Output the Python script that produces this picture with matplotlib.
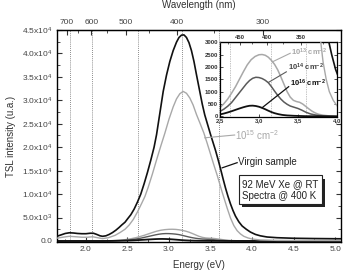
import numpy as np
import matplotlib
matplotlib.use("Agg")
import matplotlib.pyplot as plt
from matplotlib.ticker import MultipleLocator, FixedLocator
import matplotlib.patheffects as pe

plt.rcParams['font.family'] = ['Liberation Sans', 'DejaVu Sans']
plt.rcParams['mathtext.fontset'] = 'custom'
plt.rcParams['mathtext.rm'] = 'Liberation Sans'
plt.rcParams['mathtext.bf'] = 'Liberation Sans:bold'
plt.rcParams['mathtext.default'] = 'regular'

# ---- data (energy in eV, TSL intensity in u.a.) ----
virgin_E = [1.65, 1.70, 1.75, 1.80, 1.85, 1.90, 1.95, 2.00, 2.05, 2.09, 2.13, 2.17, 2.20,
            2.24, 2.28, 2.32, 2.36, 2.40, 2.43, 2.47, 2.50, 2.54, 2.58, 2.62, 2.66, 2.70,
            2.74, 2.78, 2.82, 2.85, 2.89, 2.93, 2.97, 3.01, 3.05, 3.09, 3.12, 3.15, 3.18,
            3.21, 3.24, 3.27, 3.30, 3.33, 3.37, 3.40, 3.43, 3.47, 3.50, 3.53, 3.56, 3.59,
            3.62, 3.65, 3.68, 3.71, 3.74, 3.77, 3.80, 3.84, 3.88, 3.93, 3.98, 4.04, 4.10,
            4.18, 4.30, 4.50, 4.75, 5.00, 5.08]
virgin_I = [1000, 1300, 1600, 1750, 1700, 1600, 1550, 1550, 1650, 1650, 1400, 1100, 1000,
            1100, 1400, 1800, 2300, 2900, 3400, 4000, 4700, 5600, 6800, 8300, 10000, 12200,
            14600, 17200, 20000, 22700, 27300, 31900, 35400, 38300, 40600, 42400, 43400, 43900, 43950,
            43400, 42300, 40600, 38300, 35500, 31900, 29200, 26900, 24500, 22700, 21000, 19300, 17400,
            15400, 13300, 11300, 9500, 7900, 6500, 5300, 4100, 3200, 2500, 1900, 1400, 1100,
            850, 700, 580, 520, 480, 470]

f15_E = [1.65, 1.72, 1.80, 1.88, 1.95, 2.02, 2.08, 2.14, 2.20, 2.27, 2.35, 2.41, 2.47, 2.52,
         2.57, 2.62, 2.67, 2.71, 2.75, 2.80, 2.85, 2.90, 2.95, 3.00, 3.05, 3.09, 3.13, 3.17,
         3.21, 3.25, 3.29, 3.33, 3.38, 3.42, 3.46, 3.50, 3.54, 3.58, 3.61, 3.64, 3.67, 3.70,
         3.74, 3.78, 3.82, 3.86, 3.90, 3.95, 4.00, 4.10, 4.30, 5.08]
f15_I = [600, 800, 1000, 900, 800, 800, 900, 700, 500, 700, 1200, 1800, 2500, 3400,
         4600, 6200, 8000, 9500, 11500, 14300, 17300, 20200, 23000, 26000, 28600, 30300, 31400, 31900,
         31500, 30500, 29000, 27000, 24800, 23000, 20800, 18500, 16200, 14000, 12200, 10400, 8700, 7000,
         4900, 3300, 2200, 1500, 1000, 650, 420, 220, 130, 100]

f13_E = [1.65, 2.20, 2.30, 2.40, 2.45, 2.50, 2.55, 2.60, 2.65, 2.70, 2.75, 2.80, 2.85, 2.90,
         2.95, 3.00, 3.04, 3.08, 3.12, 3.16, 3.20, 3.24, 3.28, 3.32, 3.36, 3.40, 3.44, 3.48,
         3.52, 3.56, 3.60, 3.64, 3.68, 3.72, 3.76, 3.82, 3.90, 4.00, 5.08]
f13_I = [0, 20, 60, 150, 240, 350, 510, 700, 940, 1200, 1500, 1800, 2080, 2290,
         2420, 2490, 2500, 2470, 2390, 2260, 2100, 1880, 1600, 1300, 1000, 780, 650, 600,
         570, 500, 400, 300, 210, 140, 90, 50, 20, 0, 0]

f14_E = [1.65, 2.20, 2.30, 2.40, 2.45, 2.50, 2.55, 2.60, 2.65, 2.70, 2.75, 2.80, 2.84, 2.88,
         2.92, 2.96, 3.00, 3.04, 3.08, 3.12, 3.16, 3.20, 3.24, 3.28, 3.32, 3.36, 3.40, 3.45,
         3.50, 3.55, 3.60, 3.66, 3.72, 3.80, 3.90, 4.00, 5.08]
f14_I = [0, 10, 40, 100, 140, 200, 290, 410, 560, 760, 960, 1160, 1320, 1450,
         1540, 1580, 1570, 1530, 1460, 1360, 1200, 1020, 850, 700, 580, 490, 420, 370,
         320, 250, 170, 100, 60, 25, 10, 0, 0]

f16_E = [1.65, 2.20, 2.30, 2.40, 2.50, 2.55, 2.60, 2.65, 2.70, 2.75, 2.80, 2.84, 2.88, 2.92,
         2.96, 3.00, 3.04, 3.08, 3.12, 3.16, 3.20, 3.25, 3.30, 3.36, 3.45, 3.60, 4.00, 5.08]
f16_I = [0, 0, 15, 40, 80, 115, 160, 210, 265, 320, 370, 405, 430, 435,
         420, 390, 345, 290, 230, 175, 130, 90, 60, 40, 25, 10, 0, 0]

peak_lines_E = [1.81, 2.07, 2.63, 3.16, 3.60]

main_xticks = [2.0, 2.5, 3.0, 3.5, 4.0, 4.5, 5.0]
main_yticks = [0, 5000, 10000, 15000, 20000, 25000, 30000, 35000, 40000, 45000]
main_ylabels = ['0.0', '5.0x10$^3$', '1.0x10$^4$', '1.5x10$^4$', '2.0x10$^4$', '2.5x10$^4$',
                '3.0x10$^4$', '3.5x10$^4$', '4.0x10$^4$', '4.5x10$^4$']
wl_ticks = [700, 600, 500, 400, 300]
wl_minor = [650, 550, 450, 350]
inset_xticks = [2.5, 3.0, 3.5, 4.0]
inset_xlabels = ['2,5', '3,0', '3,5', '4,0']
inset_yticks = [0, 500, 1000, 1500, 2000, 2500, 3000]
inset_wl_ticks = [450, 400, 350]
inset_wl_minor = [475, 425, 375, 325]

HC = 1239.84


def e2w(x):
    x = np.asarray(x, dtype=float)
    with np.errstate(divide='ignore', invalid='ignore'):
        return np.where(x != 0, HC / np.where(x != 0, x, 1), np.inf)


w2e = e2w

C_LIGHT = '#a8a8a8'
C_MID = '#5a5a5a'
C_DARK = '#111111'

fig = plt.figure(figsize=(3.49, 2.70), dpi=100)
ax = fig.add_axes([0.163, 0.104, 0.814, 0.785])

for e in peak_lines_E:
    ax.axvline(e, color='#666666', ls=(0, (1, 1.5)), lw=0.6, zorder=1)

ax.plot(f13_E, f13_I, color=C_LIGHT, lw=1.0, zorder=2)
ax.plot(f14_E, f14_I, color=C_MID, lw=1.0, zorder=2)
ax.plot(f16_E, f16_I, color=C_DARK, lw=1.3, zorder=2)
ax.plot(f15_E, f15_I, color=C_LIGHT, lw=1.0, zorder=3)
ax.plot(virgin_E, virgin_I, color=C_DARK, lw=1.2, zorder=4)

ax.set_xlim(1.65, 5.07)
ax.set_ylim(-200, 45000)
ax.xaxis.set_major_locator(FixedLocator(main_xticks))
ax.xaxis.set_minor_locator(MultipleLocator(0.25))
ax.yaxis.set_major_locator(FixedLocator(main_yticks))
ax.set_yticklabels(main_ylabels)
ax.yaxis.set_minor_locator(MultipleLocator(2500))
ax.tick_params(which='both', direction='in', right=True, top=False, labelsize=6,
               colors='#333333', labelcolor='#444444')
ax.tick_params(which='major', length=3.5, width=0.8)
ax.tick_params(which='minor', length=2, width=0.6)
ax.tick_params(axis='x', pad=3)
for s in ax.spines.values():
    s.set_linewidth(1.0)
ax.set_xlabel('Energy (eV)', fontsize=7, color='#333333', labelpad=5)
ax.set_ylabel('TSL intensity (u.a.)', fontsize=7, color='#333333', labelpad=4)

sec = ax.secondary_xaxis('top', functions=(e2w, w2e))
sec.xaxis.set_major_locator(FixedLocator(wl_ticks))
sec.xaxis.set_minor_locator(FixedLocator(wl_minor))
sec.tick_params(which='both', direction='in', labelsize=6, colors='#333333',
                labelcolor='#444444', pad=3)
sec.tick_params(which='major', length=3.5, width=0.8)
sec.tick_params(which='minor', length=2, width=0.6)
sec.set_xlabel('Wavelength (nm)', fontsize=7, color='#333333', labelpad=8)

# annotations in main axes
ax.plot([3.43, 3.79], [22000, 22600], color=C_LIGHT, lw=0.8, zorder=5)
ax.text(3.80, 22600, '10$^{15}$ cm$^{-2}$', color=C_LIGHT, fontsize=7, va='center', ha='left')
ax.plot([3.64, 3.82], [15600, 16700], color=C_DARK, lw=0.9, zorder=5)
ax.text(3.83, 16900, 'Virgin sample', color='#222222', fontsize=7, va='center', ha='left')

t = ax.text(3.88, 10900, '92 MeV Xe @ RT\nSpectra @ 400 K', fontsize=7, color='#222222',
            va='center', ha='left', linespacing=1.25, zorder=6,
            bbox=dict(boxstyle='square,pad=0.35', fc='white', ec='#222222', lw=0.8))
t.get_bbox_patch().set_path_effects([
    pe.withSimplePatchShadow(offset=(2.2, -2.2), shadow_rgbFace='#222222', alpha=1.0)])

# ---- inset ----
ins = fig.add_axes([0.630, 0.567, 0.336, 0.277])
for e in peak_lines_E:
    ins.axvline(e, color='#888888', ls=(0, (1, 1.5)), lw=0.5, zorder=1)
ins.plot(f13_E, f13_I, color=C_LIGHT, lw=1.1, zorder=2)
ins.plot(f14_E, f14_I, color=C_MID, lw=1.1, zorder=2)
ins.plot(f16_E, f16_I, color=C_DARK, lw=1.3, zorder=2)
ins.plot(f15_E, f15_I, color=C_LIGHT, lw=1.0, zorder=3)
ins.plot(virgin_E, virgin_I, color=C_DARK, lw=1.2, zorder=4)
ins.set_xlim(2.5, 4.0)
ins.set_ylim(-20, 3000)
ins.xaxis.set_major_locator(FixedLocator(inset_xticks))
ins.set_xticklabels(inset_xlabels)
ins.yaxis.set_major_locator(FixedLocator(inset_yticks))
ins.tick_params(which='both', direction='in', right=True, labelsize=4.3, pad=1.2,
                length=2, width=0.6, colors='#333333', labelcolor='#333333')
for lab in ins.get_xticklabels() + ins.get_yticklabels():
    lab.set_fontweight('bold')
for s in ins.spines.values():
    s.set_linewidth(0.9)
isec = ins.secondary_xaxis('top', functions=(e2w, w2e))
isec.xaxis.set_major_locator(FixedLocator(inset_wl_ticks))
isec.xaxis.set_minor_locator(FixedLocator(inset_wl_minor))
isec.tick_params(which='both', direction='in', labelsize=4.3, pad=1.2, colors='#333333')
isec.tick_params(which='major', length=2, width=0.6)
isec.tick_params(which='minor', length=1.2, width=0.5)
for lab in isec.get_xticklabels():
    lab.set_fontweight('bold')

ins.plot([3.17, 3.40], [2200, 2550], color=C_LIGHT, lw=0.8, zorder=5)
ins.text(3.41, 2580, '10$^{13}$ cm$^{-2}$', color=C_LIGHT, fontsize=5.5, fontweight='bold',
         va='center', ha='left')
ins.plot([3.12, 3.35], [1370, 1800], color=C_MID, lw=0.8, zorder=5)
ins.text(3.37, 1980, '10$^{14}$ cm$^{-2}$', color='#444444', fontsize=5.5, fontweight='bold',
         va='center', ha='left')
ins.plot([3.04, 3.38], [350, 1200], color=C_DARK, lw=0.9, zorder=5)
ins.text(3.40, 1340, '10$^{16}$ cm$^{-2}$', color='#111111', fontsize=5.5, fontweight='bold',
         va='center', ha='left')

fig.savefig('out.png', dpi=100)
